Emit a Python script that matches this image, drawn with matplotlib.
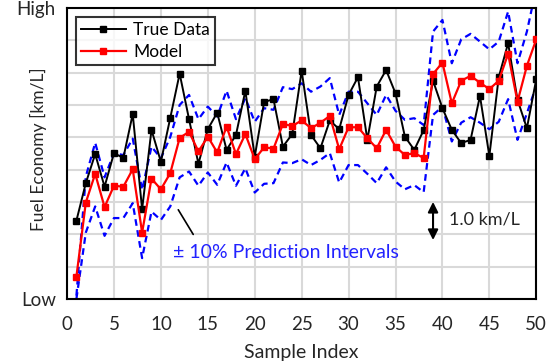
import matplotlib
matplotlib.use("Agg")
import matplotlib.pyplot as plt
import numpy as np

plt.rcParams["font.family"] = ["Lato", "DejaVu Sans"]

sample_index = np.arange(1, 51)

true_data = [
    2.42, 3.58, 4.48, 3.47, 4.51, 4.36, 5.72, 2.77, 5.23, 4.24,
    5.60, 6.97, 5.56, 4.18, 5.25, 5.76, 4.61, 5.07, 6.44, 4.40,
    6.09, 6.18, 4.71, 5.10, 7.06, 5.07, 4.66, 5.52, 5.25, 6.31,
    6.86, 4.92, 6.57, 7.08, 6.36, 5.02, 4.61, 5.22, 6.75, 5.90,
    5.23, 4.82, 4.92, 6.28, 4.42, 6.86, 7.91, 6.16, 5.28, 6.80,
]
model = [
    0.69, 2.98, 3.87, 2.84, 3.50, 3.47, 4.01, 2.05, 3.72, 3.39,
    3.89, 4.98, 5.17, 4.56, 5.02, 4.53, 5.33, 4.48, 5.10, 4.32,
    4.69, 4.65, 5.41, 5.35, 5.52, 5.28, 5.45, 5.66, 4.63, 5.31,
    5.31, 4.97, 4.66, 5.23, 4.71, 4.45, 4.51, 4.36, 6.96, 7.31,
    6.05, 6.75, 6.90, 6.69, 6.49, 6.75, 7.58, 6.10, 7.21, 8.03,
]
upper = [
    0.10, 3.78, 4.83, 3.76, 4.51, 4.45, 4.96, 3.37, 4.71, 4.35,
    5.01, 6.00, 6.31, 5.56, 5.95, 5.64, 6.44, 5.56, 6.21, 5.48,
    5.90, 5.85, 6.55, 6.49, 6.67, 6.41, 6.57, 6.83, 5.69, 6.41,
    6.41, 6.05, 5.69, 6.31, 5.82, 5.54, 5.59, 5.38, 8.27, 8.63,
    7.29, 8.03, 8.20, 7.96, 7.72, 7.96, 8.89, 7.29, 8.27, 9.62,
]
lower = [
    0.00, 2.05, 2.86, 1.95, 2.50, 2.50, 2.96, 1.26, 2.70, 2.44,
    2.86, 3.76, 3.94, 3.50, 3.91, 3.53, 4.22, 3.50, 4.04, 3.29,
    3.56, 3.58, 4.22, 4.20, 4.32, 4.14, 4.30, 4.51, 3.60, 4.14,
    4.14, 3.87, 3.58, 4.07, 3.63, 3.39, 3.52, 3.30, 5.69, 5.95,
    4.87, 5.45, 5.62, 5.45, 5.25, 5.48, 6.18, 4.92, 5.74, 6.59,
]

x_ticks = list(range(0, 51, 5))
y_grid = list(range(0, 10))
y_labels = ["Low", "", "", "", "", "", "", "", "", "High"]

txt = "#262626"

fig = plt.figure(figsize=(5.54, 3.64), dpi=100)
ax = fig.add_axes([0.121, 0.179, 0.847, 0.799])

ax.plot(sample_index, upper, color="#0000ff", lw=1.6, ls=(0, (3, 2)), zorder=2)
ax.plot(sample_index, lower, color="#0000ff", lw=1.6, ls=(0, (3, 2)), zorder=2)
ax.plot(sample_index, true_data, color="black", lw=1.4, marker="s", ms=5,
        label="True Data", zorder=3)
ax.plot(sample_index, model, color="#ff0000", lw=1.6, marker="s", ms=5,
        label="Model", zorder=4)

ax.set_xlim(0, 50)
ax.set_ylim(0, 9)
ax.set_xticks(x_ticks)
ax.set_yticks(y_grid)
ax.set_yticklabels(y_labels)
ax.tick_params(length=0, labelsize=13.5, colors=txt)
ax.tick_params(axis="x", pad=12)
ax.tick_params(axis="y", pad=8)
ax.grid(True, color="#d9d9d9", lw=1.5)
ax.set_axisbelow(True)
for sp in ax.spines.values():
    sp.set_linewidth(1.5)
    sp.set_color("black")

ax.set_xlabel("Sample Index", fontsize=14, color=txt)
ax.xaxis.set_label_coords(0.5, -0.155)
ax.set_ylabel("Fuel Economy [km/L]", fontsize=12.5, color=txt)
ax.yaxis.set_label_coords(-0.043, 0.515)

leg = ax.legend(loc="upper left", fontsize=12.5, frameon=True, fancybox=False,
                borderpad=0.3, handlelength=2.6, handletextpad=0.4,
                labelspacing=0.35, borderaxespad=0.5)
leg.get_frame().set_edgecolor("black")
leg.get_frame().set_linewidth(1.5)

ax.annotate("", xy=(11.7, 2.83), xytext=(13.6, 1.92),
            arrowprops=dict(arrowstyle="-", color="black", lw=1.2))
ax.text(11.3, 1.42, "\u00b1 10% Prediction Intervals", color="#2222ff",
        fontsize=14, va="center", ha="left")

ax.annotate("", xy=(39.0, 3.0), xytext=(39.0, 1.82),
            arrowprops=dict(arrowstyle="<|-|>", color="black", lw=1.5,
                            mutation_scale=15, shrinkA=0, shrinkB=0))
ax.text(40.7, 2.44, "1.0 km/L", fontsize=13, color=txt,
        va="center", ha="left")

fig.savefig("out.png", dpi=100)
